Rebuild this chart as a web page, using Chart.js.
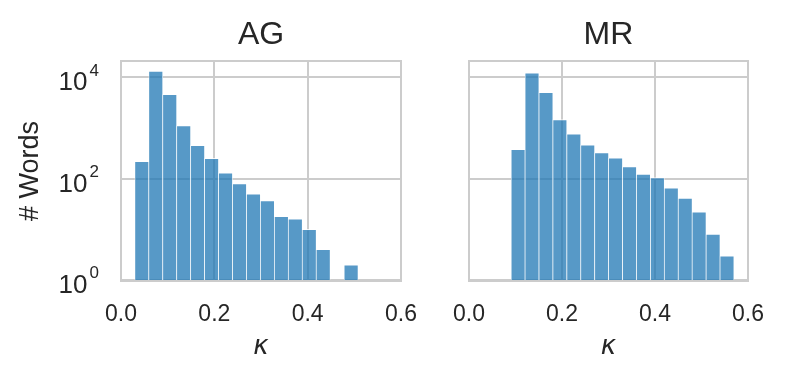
<!DOCTYPE html>
<html>
<head>
<meta charset="utf-8">
<script src="https://cdn.jsdelivr.net/npm/chart.js@4/dist/chart.umd.min.js"></script>
<style>
  html, body { margin:0; padding:0; background:#fff; }
  #wrap { position:relative; width:788px; height:384px; }
  canvas { position:absolute; top:0; }
</style>
</head>
<body>
<div id="wrap">
  <canvas id="agChart" width="430" height="384" style="left:0"></canvas>
  <canvas id="mrChart" width="358" height="384" style="left:430px"></canvas>
</div>
<script>
/* kappa histograms, log count axis */
const agBins   = [0.0446,0.0745,0.1044,0.1343,0.1642,0.1941,0.2240,0.2539,0.2838,0.3137,0.3436,0.3735,0.4034,0.4333,0.4931];
const agCounts = [219,13200,4600,1110,454,251,129,80,50,37,18,16,10,4,2];
const mrBins   = [0.1056,0.1355,0.1655,0.1954,0.2254,0.2553,0.2853,0.3152,0.3452,0.3751,0.4051,0.4350,0.4650,0.4949,0.5249,0.5548];
const mrCounts = [378,12100,5040,1460,758,460,326,255,173,123,105,66,41,22,8,3];
const xTicks   = [0, 0.2, 0.4, 0.6];
const yTicks   = [1, 100, 10000];
const yExps    = ['0','2','4'];

const TXT = '#262626', GRID = '#cccccc';
const SANS = "'Liberation Sans', Arial, sans-serif";

function makeChart(id, title, bins, counts, yWidth, padRight, showY){
  const deco = {
    id:'deco',
    afterDatasetsDraw(chart){
      const ctx = chart.ctx, a = chart.chartArea, ys = chart.scales.y;
      ctx.save();
      ctx.strokeStyle = GRID; ctx.lineWidth = 2;
      ctx.strokeRect(a.left, a.top, a.right-a.left, a.bottom-a.top);
      ctx.fillStyle = TXT;
      ctx.font = '32px ' + SANS; ctx.textAlign = 'center'; ctx.textBaseline = 'alphabetic';
      ctx.fillText(title, (a.left+a.right)/2, 44.3);
      if(showY){
        yTicks.forEach((v,i)=>{
          const y = ys.getPixelForValue(v);
          ctx.font = '26px ' + SANS; ctx.textAlign = 'right';
          ctx.fillText('10', 87.5, y+13.3);
          ctx.font = '17px ' + SANS; ctx.textAlign = 'left';
          ctx.fillText(yExps[i], 89.5, y-1.5);
        });
        ctx.translate(30.5, (a.top+a.bottom)/2); ctx.rotate(-Math.PI/2);
        ctx.font = '27px ' + SANS; ctx.textAlign = 'center'; ctx.textBaseline = 'middle';
        ctx.fillText('# Words', 0, 0);
      }
      ctx.restore();
    }
  };
  return new Chart(document.getElementById(id), {
    type:'bar',
    data:{ datasets:[{
      data: bins.map((b,i)=>({x:b, y:counts[i]})),
      backgroundColor:'rgba(31,119,180,0.75)',
      borderColor:'rgba(255,255,255,0.8)',
      borderWidth:{top:1,left:0.7,right:0.7,bottom:0},
      barPercentage:1, categoryPercentage:1, grouped:false
    }]},
    options:{
      responsive:false, animation:false, devicePixelRatio:1,
      layout:{ padding:{ top:61, right:padRight, left:0, bottom:0 } },
      plugins:{ legend:{display:false}, tooltip:{enabled:false}, title:{display:false} },
      scales:{
        x:{
          type:'linear', min:0, max:0.6, offset:false,
          afterBuildTicks(s){ s.ticks = xTicks.map(v=>({value:v})); },
          afterFit(s){ s.height = 103; s.paddingLeft = 0; s.paddingRight = 0; },
          grid:{ color:GRID, lineWidth:2, drawTicks:false, offset:false },
          border:{ display:false },
          ticks:{ color:TXT, padding:20, font:{ family:SANS, size:23 }, maxRotation:0,
                  callback:v=>Number(v).toFixed(1) },
          title:{ display:true, text:'κ', color:TXT, padding:{top:0,bottom:21},
                  font:{ family:"'DejaVu Sans', sans-serif", size:26, style:'italic' } }
        },
        y:{
          type:'logarithmic', min:0.955, max:20800,
          afterBuildTicks(s){ s.ticks = yTicks.map(v=>({value:v})); },
          afterFit(s){ s.width = yWidth; },
          grid:{ color:GRID, lineWidth:2, drawTicks:false },
          border:{ display:false },
          ticks:{ display:false }
        }
      }
    },
    plugins:[deco]
  });
}

makeChart('agChart', 'AG', agBins, agCounts, 121, 29, true);
makeChart('mrChart', 'MR', mrBins, mrCounts, 39, 40, false);
</script>
</body>
</html>
